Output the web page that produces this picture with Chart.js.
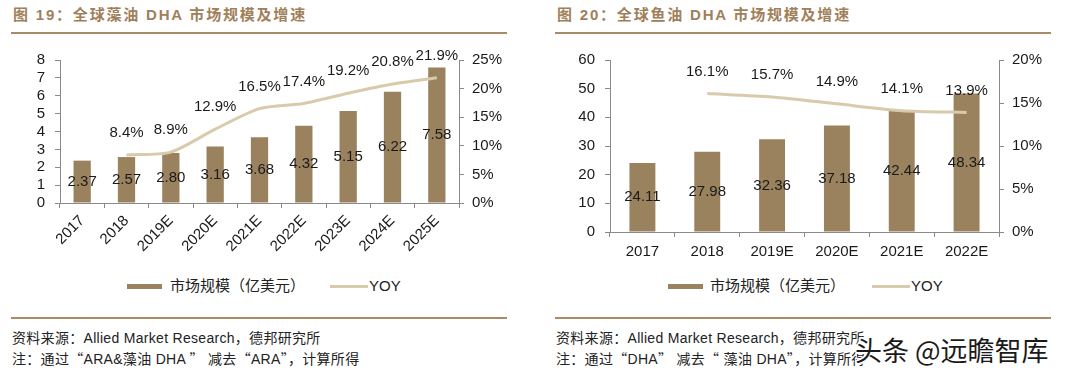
<!DOCTYPE html>
<html><head><meta charset="utf-8">
<script src="https://cdn.jsdelivr.net/npm/chart.js@4/dist/chart.umd.min.js"></script>
<style>
body{margin:0;width:1080px;height:377px;background:#fff;position:relative;overflow:hidden;font-family:"Liberation Sans","Noto Sans CJK SC",sans-serif;}
.title{position:absolute;top:5px;font-size:15px;font-weight:bold;color:#A0805A;letter-spacing:1.8px;white-space:nowrap;line-height:20px;}
.rule{position:absolute;height:2px;background:#A88C68;}
.cw{position:absolute;top:40px;width:540px;height:230px;}
.lg{position:absolute;font-size:15px;color:#222;white-space:nowrap;line-height:18px;}
.box{position:absolute;height:5px;background:#9B825E;}
.ln{position:absolute;height:3px;background:#D8CAAB;}
.ft{position:absolute;font-size:14px;color:#222;white-space:nowrap;line-height:18px;letter-spacing:0.3px;}
.q{font-family:"Noto Sans CJK SC",sans-serif;}
.wm{position:absolute;left:855px;top:332px;font-size:27px;line-height:36px;color:#1a1a1a;white-space:nowrap;font-family:"Noto Sans CJK SC","Liberation Sans",sans-serif;
text-shadow:1px 1px 0 #fff,-1px -1px 0 #fff,1px -1px 0 #fff,-1px 1px 0 #fff,2px 0 0 #fff,-2px 0 0 #fff,0 2px 0 #fff,0 -2px 0 #fff;}
</style></head>
<body>
<div class="title" style="left:13px">图 19：全球藻油 DHA 市场规模及增速</div>
<div class="rule" style="left:11px;top:32px;width:496px"></div>
<div class="title" style="left:557px">图 20：全球鱼油 DHA 市场规模及增速</div>
<div class="rule" style="left:555px;top:32px;width:496px"></div>

<div class="cw" style="left:0"><canvas id="c1" width="540" height="230"></canvas></div>
<div class="cw" style="left:540px"><canvas id="c2" width="540" height="230"></canvas></div>

<div class="box" style="left:127px;top:284px;width:35px"></div>
<div class="lg" style="left:170px;top:277px">市场规模（亿美元）</div>
<div class="ln" style="left:330px;top:285px;width:38px"></div>
<div class="lg" style="left:369px;top:277px">YOY</div>

<div class="box" style="left:668px;top:284px;width:35px"></div>
<div class="lg" style="left:710px;top:277px">市场规模（亿美元）</div>
<div class="ln" style="left:872px;top:285px;width:38px"></div>
<div class="lg" style="left:911px;top:277px">YOY</div>

<div class="rule" style="left:11px;top:317px;width:496px"></div>
<div class="rule" style="left:555px;top:317px;width:496px"></div>
<div class="ft" style="left:12px;top:329px">资料来源：Allied Market Research，德邦研究所</div>
<div class="ft" style="left:12px;top:349px">注：通过<span class="q">“</span>ARA&amp;藻油 DHA <span class="q">”</span> 减去<span class="q">“</span>ARA<span class="q">”</span>，计算所得</div>
<div class="ft" style="left:556px;top:329px">资料来源：Allied Market Research，德邦研究所</div>
<div class="ft" style="left:556px;top:349px">注：通过<span class="q">“</span>DHA<span class="q">”</span> 减去<span class="q">“</span> 藻油 DHA<span class="q">”</span>，计算所得</div>
<div class="wm">头条 @远瞻智库</div>

<script>
const algaeYears = ['2017','2018','2019E','2020E','2021E','2022E','2023E','2024E','2025E'];
const algaeMarket = [2.37,2.57,2.80,3.16,3.68,4.32,5.15,6.22,7.58];
const algaeYoy = [null,8.4,8.9,12.9,16.5,17.4,19.2,20.8,21.9];

const fishYears = ['2017','2018','2019E','2020E','2021E','2022E'];
const fishMarket = [24.11,27.98,32.36,37.18,42.44,48.34];
const fishYoy = [null,16.1,15.7,14.9,14.1,13.9];

const BAR = '#9B825E', LINE = '#D8CAAB', AX = '#8a8a8a', TXT = '#1a1a1a';
const FONT = {family:'"Liberation Sans", Arial, sans-serif', size:15};

const labelPlugin = {
  id:'vals',
  afterDatasetsDraw(chart){
    const ctx = chart.ctx; ctx.save();
    ctx.font = '15px "Liberation Sans", Arial, sans-serif';
    ctx.fillStyle = TXT; ctx.textAlign = 'center'; ctx.textBaseline = 'middle';
    const bd = chart.data.datasets[0].data;
    chart.getDatasetMeta(0).data.forEach((el,i)=>{
      const p = el.getProps(['x','y','base'], true);
      ctx.fillText(bd[i].toFixed(2), p.x, (p.y + p.base)/2);
    });
    const ld = chart.data.datasets[1].data;
    chart.getDatasetMeta(1).data.forEach((el,i)=>{
      if (ld[i] == null) return;
      ctx.fillText(ld[i].toFixed(1) + '%', el.x, el.y - 22);
    });
    ctx.restore();
  }
};

function make(id, cats, bars, yoy, o){
  new Chart(document.getElementById(id), {
    data:{labels:cats, datasets:[
      {type:'bar', label:'市场规模（亿美元）', data:bars, backgroundColor:BAR, yAxisID:'y',
       categoryPercentage:1, barPercentage:o.bp, order:2},
      {type:'line', label:'YOY', data:yoy, borderColor:LINE, borderWidth:3, pointRadius:0,
       tension:0.25, yAxisID:'y1', order:1}
    ]},
    options:{
      responsive:false, animation:false, devicePixelRatio:1,
      layout:{padding:{top:20,left:0,right:0,bottom:0}},
      plugins:{legend:{display:false}, tooltip:{enabled:false}},
      scales:{
        x:{grid:{display:true, drawOnChartArea:false, tickLength:5, color:AX, offset:true},
           border:{color:AX, width:1},
           ticks:{font:FONT, color:TXT, maxRotation:o.rot, minRotation:o.rot, padding:o.xpad, autoSkip:false},
           afterFit(s){ s.height = o.xh; }},
        y:{position:'left', min:0, max:o.ymax, grid:{drawOnChartArea:false, tickLength:5, color:AX},
           border:{color:AX, width:1},
           ticks:{stepSize:o.ystep, font:FONT, color:TXT, padding:10, autoSkip:false},
           afterFit(s){ s.width = o.yw; }},
        y1:{position:'right', min:0, max:o.y1max, grid:{drawOnChartArea:false, tickLength:5, color:AX},
           border:{color:AX, width:1},
           ticks:{stepSize:5, font:FONT, color:TXT, padding:8, autoSkip:false, callback:v=>v+'%'},
           afterFit(s){ s.width = 81; }}
      }
    },
    plugins:[labelPlugin]
  });
}

make('c1', algaeYears, algaeMarket, algaeYoy, {bp:0.39, rot:45, xpad:4, xh:67, ymax:8, ystep:1, y1max:25, yw:60});
make('c2', fishYears, fishMarket, fishYoy, {bp:0.4, rot:0, xpad:6, xh:38, ymax:60, ystep:10, y1max:20, yw:70});
</script>
</body></html>
